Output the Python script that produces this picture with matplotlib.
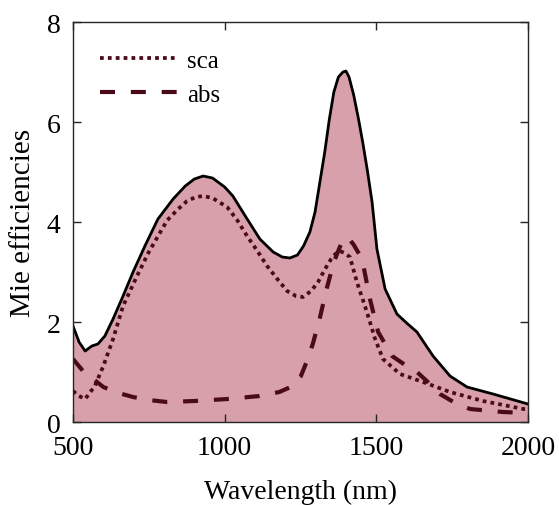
import matplotlib
matplotlib.use("Agg")
import matplotlib.pyplot as plt

# Extinction (total) curve
ext_wl = [500, 520, 540, 562, 582, 605, 632, 665, 698, 737, 780, 830, 870, 900, 929, 960, 1000, 1027, 1070, 1116, 1160, 1190, 1215, 1240, 1260, 1281, 1298, 1314, 1330, 1345, 1360, 1375, 1390, 1400, 1410, 1425, 1440, 1455, 1470, 1486, 1502, 1529, 1568, 1600, 1634, 1687, 1743, 1799, 1885, 2000]
ext = [1.92, 1.60, 1.42, 1.52, 1.56, 1.72, 2.06, 2.52, 3.00, 3.52, 4.06, 4.46, 4.72, 4.86, 4.92, 4.88, 4.70, 4.52, 4.10, 3.66, 3.40, 3.30, 3.28, 3.34, 3.52, 3.80, 4.20, 4.80, 5.40, 6.05, 6.60, 6.90, 7.00, 7.02, 6.90, 6.55, 6.10, 5.60, 5.05, 4.40, 3.46, 2.66, 2.16, 1.98, 1.80, 1.32, 0.92, 0.70, 0.56, 0.36]

# Scattering efficiency
sca_wl = [500, 520, 540, 572, 600, 632, 665, 711, 750, 810, 845, 876, 905, 929, 960, 1008, 1040, 1074, 1110, 1140, 1175, 1206, 1235, 1258, 1285, 1308, 1330, 1350, 1365, 1380, 1395, 1413, 1436, 1469, 1496, 1522, 1578, 1654, 1743, 1852, 1985, 2000]
sca = [0.62, 0.52, 0.46, 0.72, 1.12, 1.66, 2.32, 2.92, 3.40, 4.03, 4.25, 4.42, 4.50, 4.52, 4.48, 4.30, 4.05, 3.72, 3.40, 3.12, 2.85, 2.62, 2.52, 2.50, 2.62, 2.80, 3.05, 3.25, 3.36, 3.42, 3.38, 3.30, 2.80, 2.20, 1.66, 1.26, 0.96, 0.80, 0.60, 0.42, 0.26, 0.26]

# Absorption efficiency
abs_wl = [500, 533, 600, 650, 698, 750, 810, 900, 1008, 1115, 1180, 1225, 1250, 1270, 1290, 1313, 1336, 1360, 1385, 1405, 1425, 1453, 1479, 1506, 1552, 1600, 1634, 1670, 1710, 1760, 1809, 1918, 2000]
abs_ = [1.26, 1.02, 0.70, 0.58, 0.50, 0.44, 0.40, 0.42, 0.46, 0.52, 0.60, 0.72, 0.90, 1.20, 1.55, 2.06, 2.66, 3.20, 3.58, 3.70, 3.55, 3.26, 2.46, 1.80, 1.32, 1.12, 1.00, 0.80, 0.56, 0.38, 0.26, 0.20, 0.18]

x_ticks = [500, 1000, 1500, 2000]
y_ticks = [0, 2, 4, 6, 8]

plt.rcParams['font.family'] = ['Liberation Serif', 'DejaVu Serif']

fig = plt.figure(figsize=(5.59, 5.06), dpi=100)
ax = fig.add_axes([0.1306, 0.164, 0.8139, 0.7905])

fill_c = '#D8A0AA'
line_c = '#4A0A18'

ax.fill_between(ext_wl, ext, 0, color=fill_c, linewidth=0, zorder=1)
ax.plot(ext_wl, ext, color='black', linewidth=2.0, zorder=3)
ax.plot(sca_wl, sca, color=line_c, linestyle=(0, (1, 1.1)), linewidth=2.7, label='sca', zorder=4)
ax.plot(abs_wl, abs_, color=line_c, linestyle=(0, (3.6, 3.8)), linewidth=3.0, label='abs', zorder=4)

ax.set_xlim(500, 2000)
ax.set_ylim(0, 8)
ax.set_xticks(x_ticks)
ax.set_yticks(y_ticks)
ax.tick_params(direction='in', top=True, right=True, labelsize=20, length=6, width=1, color='#262626', pad=9)
for s in ax.spines.values():
    s.set_color('#262626')
    s.set_linewidth(1.0)
    s.set_zorder(5)

ax.set_xlabel('Wavelength (nm)', fontsize=20, labelpad=14)
ax.set_ylabel('Mie efficiencies', fontsize=21, labelpad=8)

leg = ax.legend(loc='upper left', frameon=False, fontsize=18, handlelength=3.1, handletextpad=0.4,
                labelspacing=0.45, borderaxespad=0, borderpad=0, bbox_to_anchor=(0.059, 0.931))

fig.savefig('out.png', dpi=100)
